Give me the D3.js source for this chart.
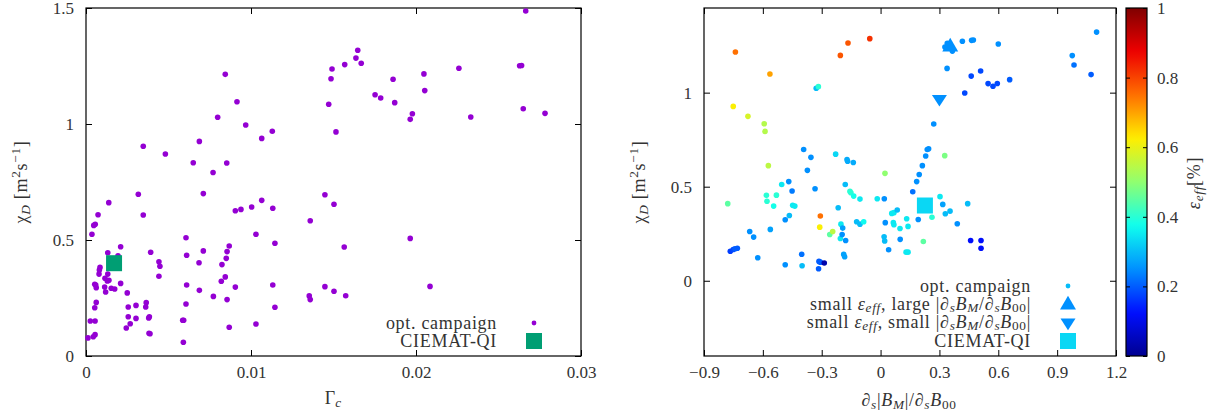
<!DOCTYPE html>
<html>
<head>
<meta charset="utf-8">
<script src="https://cdn.jsdelivr.net/npm/d3@7"></script>
<style>
  body { margin: 0; background: #fff; }
  svg text { font-family: "Liberation Serif", "DejaVu Serif", serif; fill: #333; }
</style>
</head>
<body>
<svg width="1212" height="419"></svg>
<script>
// ---- left panel: Gamma_c vs chi_D ----
const leftGamma = [0.00844,0.00915,0.00798,0.00968,0.01065,0.01129,0.00347,0.00481,0.00687,0.0065,0.00853,0.0077,
  0.01491,0.01485,0.01471,0.01515,0.02665,0.01647,0.01636,0.01668,0.01568,0.01861,0.02048,0.0226,0.02628,0.0264,
  0.01752,0.01786,0.01871,0.02053,0.01978,0.01965,0.02332,0.0265,0.02782,0.01503,0.01565,0.01965,0.01503,0.01574,
  0.02085,0.00317,0.00711,0.00138,0.00073,0.00347,0.00056,0.00047,0.00036,0.01448,0.01065,0.00905,0.00939,0.01004,
  0.01132,0.01359,0.0103,0.00606,0.01145,0.0021,0.00132,0.00194,0.00392,0.00711,0.00868,0.00855,0.0061,0.0085,
  0.00442,0.00448,0.00685,0.00824,0.00085,0.00081,0.00079,0.00132,0.00115,0.00139,0.00129,0.0021,0.00442,0.00844,
  0.0082,0.00053,0.00059,0.00062,0.00113,0.00153,0.00174,0.00119,0.0061,0.00687,0.00905,0.01132,0.0025,0.00772,
  0.00855,0.01448,0.01353,0.01359,0.00062,0.00053,0.00256,0.00303,0.00365,0.00362,0.00606,0.01145,0.00256,0.00303,
  0.00384,0.0038,0.00268,0.00244,0.00026,0.00055,0.00586,0.00592,0.00868,0.0103,0.00382,0.00388,0.00055,0.00044,
  0.00012,0.0059];
const leftChi = [1.214,1.096,1.029,0.996,0.938,0.969,0.904,0.871,0.925,0.833,0.832,0.791,
  1.237,1.195,1.085,0.966,1.487,1.318,1.284,1.262,1.256,1.193,1.216,1.240,1.251,1.252,
  1.126,1.112,1.092,1.144,1.044,1.020,1.030,1.066,1.046,0.654,0.470,0.507,0.279,0.260,
  0.300,0.697,0.700,0.661,0.609,0.608,0.568,0.563,0.525,0.695,0.671,0.626,0.632,0.642,
  0.637,0.583,0.525,0.510,0.486,0.471,0.445,0.432,0.447,0.453,0.474,0.450,0.434,0.421,
  0.406,0.387,0.402,0.394,0.382,0.371,0.353,0.353,0.335,0.326,0.323,0.313,0.344,0.341,
  0.322,0.309,0.306,0.294,0.297,0.292,0.289,0.276,0.306,0.283,0.297,0.306,0.272,0.257,
  0.243,0.299,0.259,0.243,0.231,0.208,0.211,0.218,0.230,0.211,0.224,0.210,0.169,0.162,
  0.169,0.164,0.139,0.121,0.151,0.151,0.154,0.154,0.124,0.138,0.098,0.096,0.092,0.083,
  0.078,0.059];
const leftQI = [0.0017, 0.40];

// ---- right panel: d_s|B_M|/d_sB00 vs chi_D, coloured by eps_eff ----
const rightDeriv = [-0.74,-0.564,-0.751,-0.676,-0.593,-0.589,-0.572,-0.205,-0.166,-0.055,-0.328,-0.317,-0.392,-0.355,
  -0.373,-0.229,-0.171,-0.168,-0.139,0.0225,-0.779,-0.766,-0.751,-0.742,-0.73,-0.667,-0.647,-0.626,-0.582,-0.579,
  -0.531,-0.545,-0.562,-0.504,-0.468,-0.451,-0.448,-0.437,-0.465,-0.486,-0.334,-0.486,-0.402,-0.4,-0.307,-0.31,
  -0.314,-0.307,-0.316,-0.287,-0.259,-0.244,-0.216,-0.202,-0.205,-0.193,-0.196,-0.178,-0.188,-0.183,-0.18,-0.156,
  -0.151,-0.137,-0.105,-0.122,-0.105,-0.086,-0.017,0.019,0.024,0.018,0.021,0.041,0.057,0.068,0.065,0.068,0.085,
  0.099,0.1,0.13,0.14,0.133,0.14,0.328,0.34,0.345,0.366,0.417,0.464,0.473,0.6,0.339,0.462,0.51,0.429,0.548,0.573,
  0.595,0.658,1.101,0.977,0.986,1.073,0.271,0.245,0.238,0.23,0.213,0.197,0.327,0.184,0.164,0.303,0.317,0.33,0.354,
  0.444,0.391,0.262,0.192,0.218,0.459,0.512,0.512];
const rightChi = [1.216,1.099,0.927,0.874,0.835,0.794,0.612,1.198,1.264,1.287,1.023,1.032,0.698,0.656,
  0.587,0.673,0.645,0.635,0.629,0.571,0.41,0.157,0.166,0.17,0.173,0.262,0.232,0.122,0.454,0.423,
  0.455,0.397,0.273,0.512,0.527,0.477,0.401,0.397,0.347,0.324,0.489,0.085,0.141,0.08,0.344,0.285,
  0.103,0.099,0.064,0.094,0.246,0.262,0.388,0.301,0.225,0.28,0.246,0.214,0.14,0.128,0.512,0.475,
  0.468,0.45,0.434,0.314,0.301,0.314,0.436,0.436,0.309,0.234,0.211,0.165,0.358,0.362,0.309,0.298,0.376,
  0.278,0.22,0.152,0.152,0.33,0.289,1.243,1.262,1.248,1.221,1.273,1.278,1.28,1.259,1.129,1.088,1.115,0.998,1.048,1.034,
  1.049,1.069,1.322,1.197,1.147,1.096,0.833,0.702,0.698,0.663,0.612,0.565,0.665,0.527,0.473,0.447,0.406,0.356,0.37,
  0.41,0.303,0.338,0.326,0.209,0.214,0.214,0.173];
const rightEps = [0.75,0.70,0.62,0.58,0.54,0.54,0.55,0.78,0.78,0.82,0.30,0.40,0.25,0.25,
  0.25,0.33,0.28,0.28,0.28,0.50,0.45,0.17,0.18,0.20,0.20,0.25,0.25,0.25,0.40,0.40,
  0.40,0.38,0.27,0.35,0.25,0.23,0.35,0.35,0.30,0.25,0.25,0.25,0.22,0.30,0.75,0.62,
  0.20,0.20,0.20,0.03,0.45,0.55,0.30,0.35,0.35,0.27,0.25,0.25,0.27,0.27,0.30,0.40,
  0.40,0.38,0.35,0.30,0.30,0.37,0.35,0.25,0.25,0.30,0.30,0.25,0.35,0.35,0.35,0.35,0.30,
  0.35,0.25,0.35,0.35,0.35,0.35,0.25,0.25,0.25,0.25,0.25,0.25,0.25,0.25,0.25,0.18,0.18,0.18,0.18,0.18,
  0.18,0.20,0.25,0.25,0.22,0.20,0.25,0.25,0.25,0.25,0.25,0.25,0.48,0.25,0.22,0.35,0.27,0.30,0.30,
  0.30,0.25,0.40,0.25,0.45,0.12,0.12,0.12];
const rightLarge = [0.355, 1.248, 0.25];   // small eps, large |dB|
const rightSmall = [0.30, 0.964, 0.25];    // small eps, small |dB|
const rightQI = [0.226, 0.40, 0.33];

// ticks
const leftXTicks = [0, 0.01, 0.02, 0.03];
const leftXLabels = ["0", "0.01", "0.02", "0.03"];
const leftYTicks = [0, 0.5, 1, 1.5];
const leftYLabels = ["0", "0.5", "1", "1.5"];
const rightXTicks = [-0.9, -0.6, -0.3, 0, 0.3, 0.6, 0.9, 1.2];
const rightXLabels = ["\u22120.9", "\u22120.6", "\u22120.3", "0", "0.3", "0.6", "0.9", "1.2"];
const rightYTicks = [0, 0.5, 1];
const rightYLabels = ["0", "0.5", "1"];
const cbTicks = [0, 0.2, 0.4, 0.6, 0.8, 1];
const cbLabels = ["0", "0.2", "0.4", "0.6", "0.8", "1"];
const paletteStops = ["#000090", "#000fff", "#0090ff", "#0fffee", "#90ff70", "#ffee00", "#ff7000", "#ee0000", "#7f0000"];

const svg = d3.select("svg");
const FS = 18;
const TFS = 17;
const LS = "0.7px";

const palette = d3.scaleLinear()
  .domain(paletteStops.map((c, i) => i / (paletteStops.length - 1)))
  .range(paletteStops)
  .interpolate(d3.interpolateRgb);

const xL = d3.scaleLinear().domain([0, 0.03]).range([86, 581]);
const yL = d3.scaleLinear().domain([0, 1.5]).range([356, 8]);
const xR = d3.scaleLinear().domain([-0.9, 1.2]).range([704, 1116]);
const yR = d3.scaleLinear().domain([-0.4, 1.45]).range([356, 8]);
const cS = d3.scaleLinear().domain([0, 1]).range([356, 8]);

// rich text helper: parts = [{t, it, sub, sup}]
const rich = (sel, parts, subShift = "-3px") => {
  parts.forEach((p) => {
    const ts = sel.append("tspan").text(p.t);
    if (p.it) ts.attr("font-style", "italic");
    if (p.sub) ts.attr("baseline-shift", subShift).attr("font-size", FS * 0.74);
    if (p.sup) ts.attr("baseline-shift", "7px").attr("font-size", FS * 0.74);
  });
  return sel;
};

const fmtFrom = (ticks, labels) => (d) => labels[ticks.indexOf(d)];

const styleAxis = (g) => {
  g.select(".domain").remove();
  g.selectAll("line").attr("stroke", "#000").attr("stroke-width", 1);
  g.selectAll("text").attr("font-size", TFS).attr("font-family", null).attr("fill", "#333");
};

const drawFrame = (x, y, xTicks, xLabels, yTicks, yLabels) => {
  const [x0, x1] = x.range();
  const [y0, y1] = y.range();
  svg.append("g").attr("transform", `translate(0,${y0})`)
    .call(d3.axisBottom(x).tickValues(xTicks).tickSize(-6).tickPadding(10).tickFormat(fmtFrom(xTicks, xLabels)))
    .call(styleAxis);
  svg.append("g").attr("transform", `translate(0,${y1})`)
    .call(d3.axisTop(x).tickValues(xTicks).tickSize(-6).tickFormat(""))
    .call(styleAxis);
  svg.append("g").attr("transform", `translate(${x0},0)`)
    .call(d3.axisLeft(y).tickValues(yTicks).tickSize(-6).tickPadding(12).tickFormat(fmtFrom(yTicks, yLabels)))
    .call(styleAxis);
  svg.append("g").attr("transform", `translate(${x1},0)`)
    .call(d3.axisRight(y).tickValues(yTicks).tickSize(-6).tickFormat(""))
    .call(styleAxis);
  svg.append("rect")
    .attr("x", x0).attr("y", y1)
    .attr("width", x1 - x0).attr("height", y0 - y1)
    .attr("fill", "none").attr("stroke", "#000").attr("stroke-width", 1.2);
};

const chiLabel = (cx, cy) => {
  const t = svg.append("text")
    .attr("transform", `translate(${cx},${cy}) rotate(-90)`)
    .attr("text-anchor", "middle").attr("font-size", FS).attr("letter-spacing", LS);
  rich(t, [{ t: "\u03c7" }, { t: "D", it: true, sub: true }, { t: " [m" }, { t: "2", sup: true },
    { t: "s" }, { t: "\u22121", sup: true }, { t: "]" }]);
};

const legendText = (g, x, y) => g.append("text")
  .attr("x", x).attr("y", y).attr("dy", "0.35em")
  .attr("text-anchor", "end").attr("font-size", FS).attr("letter-spacing", LS);

// ================= left panel =================
drawFrame(xL, yL, leftXTicks, leftXLabels, leftYTicks, leftYLabels);

svg.append("g").selectAll("circle")
  .data(leftGamma.map((g, i) => [g, leftChi[i]]))
  .enter().append("circle")
  .attr("cx", (d) => xL(d[0]))
  .attr("cy", (d) => yL(d[1]))
  .attr("r", 2.8)
  .attr("fill", "#9400d3");

svg.append("rect")
  .attr("x", xL(leftQI[0]) - 8).attr("y", yL(leftQI[1]) - 8)
  .attr("width", 16).attr("height", 16)
  .attr("fill", "#009e73");

chiLabel(27, 182);
rich(svg.append("text").attr("x", 333).attr("y", 404).attr("text-anchor", "middle").attr("font-size", FS),
  [{ t: "\u0393" }, { t: "c", it: true, sub: true }]);

// legend left
const legL = svg.append("g");
legendText(legL, 497, 323).text("opt.  campaign");
legL.append("circle").attr("cx", 534).attr("cy", 323).attr("r", 2.4).attr("fill", "#9400d3");
legendText(legL, 497, 341).text("CIEMAT-QI");
legL.append("rect").attr("x", 526).attr("y", 333).attr("width", 16).attr("height", 16).attr("fill", "#009e73");

// ================= right panel =================
drawFrame(xR, yR, rightXTicks, rightXLabels, rightYTicks, rightYLabels);

svg.append("g").selectAll("circle")
  .data(rightDeriv.map((d, i) => [d, rightChi[i], rightEps[i]]))
  .enter().append("circle")
  .attr("cx", (d) => xR(d[0]))
  .attr("cy", (d) => yR(d[1]))
  .attr("r", 2.8)
  .attr("fill", (d) => palette(d[2]));

const triUp = d3.symbol().type(d3.symbolTriangle).size(110);
const triDown = (cx, cy, s) => `M${cx - s},${cy - s * 0.6}L${cx + s},${cy - s * 0.6}L${cx},${cy + s * 0.95}Z`;

svg.append("path")
  .attr("d", triUp())
  .attr("transform", `translate(${xR(rightLarge[0])},${yR(rightLarge[1]) + 1})`)
  .attr("fill", palette(rightLarge[2]));
svg.append("path")
  .attr("d", triDown(xR(rightSmall[0]), yR(rightSmall[1]), 7.5))
  .attr("fill", palette(rightSmall[2]));
svg.append("rect")
  .attr("x", xR(rightQI[0]) - 8).attr("y", yR(rightQI[1]) - 8)
  .attr("width", 16).attr("height", 16)
  .attr("fill", palette(rightQI[2]));

chiLabel(645, 182);
rich(svg.append("text").attr("x", 909).attr("y", 406).attr("text-anchor", "middle").attr("font-size", FS)
  .attr("letter-spacing", LS),
  [{ t: "\u2202" }, { t: "s", it: true, sub: true }, { t: "|" }, { t: "B", it: true }, { t: "M", it: true, sub: true },
    { t: "|/\u2202" }, { t: "s", it: true, sub: true }, { t: "B", it: true }, { t: "00", sub: true }]);

// legend right
const legR = svg.append("g");
const lx = 1031, mx = 1068;
const dBparts = [{ t: "|" }, { t: "\u2202" }, { t: "s", it: true, sub: true }, { t: "B", it: true },
  { t: "M", it: true, sub: true }, { t: "/\u2202" }, { t: "s", it: true, sub: true }, { t: "B", it: true },
  { t: "00", sub: true }, { t: "|" }];
legendText(legR, lx, 285.5).text("opt.  campaign");
legR.append("circle").attr("cx", mx).attr("cy", 286).attr("r", 2.4).attr("fill", palette(0.3));
rich(legendText(legR, lx, 303.5),
  [{ t: "small " }, { t: "\u03b5", it: true }, { t: "eff", it: true, sub: true }, { t: ", large " }].concat(dBparts), "-2px");
legR.append("path").attr("d", triUp()).attr("transform", `translate(${mx},${305})`).attr("fill", palette(0.25));
rich(legendText(legR, lx, 322),
  [{ t: "small " }, { t: "\u03b5", it: true }, { t: "eff", it: true, sub: true }, { t: ", small " }].concat(dBparts), "-2px");
legR.append("path").attr("d", triDown(mx, 323, 7.5)).attr("fill", palette(0.25));
legendText(legR, lx, 341).text("CIEMAT-QI");
legR.append("rect").attr("x", mx - 8).attr("y", 333).attr("width", 16).attr("height", 16).attr("fill", palette(0.33));

// ================= colour bar =================
const grad = svg.append("defs").append("linearGradient")
  .attr("id", "cbGrad")
  .attr("x1", "0%").attr("y1", "100%").attr("x2", "0%").attr("y2", "0%");
d3.range(0, 1.0001, 0.02).forEach((v) => {
  grad.append("stop").attr("offset", v).attr("stop-color", palette(v));
});
svg.append("rect")
  .attr("x", 1126).attr("y", cS(1))
  .attr("width", 21).attr("height", cS(0) - cS(1))
  .attr("fill", "url(#cbGrad)");
svg.append("g").attr("transform", "translate(1147,0)")
  .call(d3.axisRight(cS).tickValues(cbTicks).tickSize(-4).tickPadding(10).tickFormat(fmtFrom(cbTicks, cbLabels)))
  .call(styleAxis);
svg.append("g").attr("transform", "translate(1126,0)")
  .call(d3.axisLeft(cS).tickValues(cbTicks).tickSize(-4).tickFormat(""))
  .call(styleAxis);
svg.append("rect")
  .attr("x", 1126).attr("y", cS(1))
  .attr("width", 21).attr("height", cS(0) - cS(1))
  .attr("fill", "none").attr("stroke", "#000").attr("stroke-width", 1.2);
rich(svg.append("text").attr("transform", "translate(1200,183) rotate(-90)")
  .attr("text-anchor", "middle").attr("font-size", FS).attr("letter-spacing", LS),
  [{ t: "\u03b5", it: true }, { t: "eff", it: true, sub: true }, { t: "[%]" }]);
</script>
</body>
</html>
